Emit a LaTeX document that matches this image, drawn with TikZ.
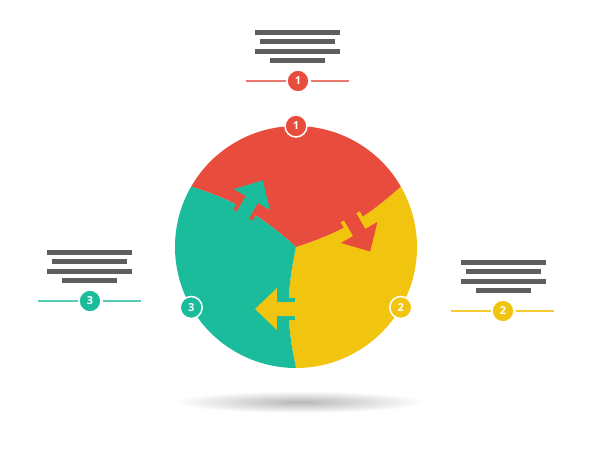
\documentclass[tikz,border=0pt]{standalone}
\usepackage{fontspec}
\setmainfont{Open Sans}
\usepackage{xcolor}
\usepackage{tikz}
\usetikzlibrary{positioning,calc}

\definecolor{pred}{HTML}{E74C3C}
\definecolor{pyellow}{HTML}{F1C40F}
\definecolor{pteal}{HTML}{1ABC9C}
\definecolor{bargray}{HTML}{5E5E5E}

\begin{document}
\begin{tikzpicture}[
    x=1pt, y=1pt,
    badge/.style={circle, draw=white, line width=1.5pt, minimum size=22pt, inner sep=0pt, text=white, font=\fontsize{11}{11}\selectfont\bfseries},
    bar/.style={rectangle, fill=bargray, inner sep=0pt, minimum height=5pt, minimum width=#1},
    legline/.style={line width=1.3pt, shorten >=1pt, shorten <=1pt}
]
\useasboundingbox (-296,-203) rectangle (304,247);

% shadow under the wheel
\shade[inner color=black!28, outer color=white] (4,-155) ellipse [x radius=125, y radius=11];

% the three pieces (drawn in the frame of the yellow one)
\foreach \rot/\col in {0/pyellow, 120/pred, 240/pteal}{
  \begin{scope}[rotate=\rot]
    \fill[\col] (0,0) to[bend right=12] (-90:121) arc[start angle=-90, end angle=30, radius=121] to[bend left=12] (0,0) -- cycle;
  \end{scope}
}

% arrows across the seams and the numbers on the rim
\foreach \rot/\col/\other/\num in {0/pyellow/pteal/2, 120/pred/pyellow/1, 240/pteal/pred/3}{
  \begin{scope}[rotate=\rot]
    \fill[\other] (-8,-55) rectangle (-1,-51);
    \fill[\other] (-8,-69) rectangle (-1,-73);
    \fill[\col] (2,-55) -- (-19,-55) -- (-19,-41) -- (-41,-62) -- (-19,-83) -- (-19,-69) -- (2,-69) -- cycle;
    \node[badge, fill=\col] (c\num) at (-30:121) {\num};
  \end{scope}
}

% legend 1 (top)
\node[badge, fill=pred] (n1) at (2,166) {1};
\node[bar=55pt, above=6pt of n1] (t14) {};
\node[bar=85pt, above=4pt of t14] (t13) {};
\node[bar=75pt, above=4pt of t13] (t12) {};
\node[bar=85pt, above=4pt of t12] (t11) {};
\coordinate[left=52pt of n1.center] (n1w);
\coordinate[right=52pt of n1.center] (n1e);
\draw[legline, pred!75] (n1w) -- (n1) -- (n1e);

% legend 2 (right)
\node[badge, fill=pyellow] (n2) at (207,-64) {2};
\node[bar=55pt, above=6pt of n2] (t24) {};
\node[bar=85pt, above=4pt of t24] (t23) {};
\node[bar=75pt, above=4pt of t23] (t22) {};
\node[bar=85pt, above=4pt of t22] (t21) {};
\coordinate[left=52pt of n2.center] (n2w);
\coordinate[right=52pt of n2.center] (n2e);
\draw[legline, pyellow!85] (n2w) -- (n2) -- (n2e);

% legend 3 (left)
\node[badge, fill=pteal] (n3) at (-206,-54) {3};
\node[bar=55pt, above=6pt of n3] (t34) {};
\node[bar=85pt, above=4pt of t34] (t33) {};
\node[bar=75pt, above=4pt of t33] (t32) {};
\node[bar=85pt, above=4pt of t32] (t31) {};
\coordinate[left=52pt of n3.center] (n3w);
\coordinate[right=52pt of n3.center] (n3e);
\draw[legline, pteal!75] (n3w) -- (n3) -- (n3e);

\end{tikzpicture}
\end{document}
